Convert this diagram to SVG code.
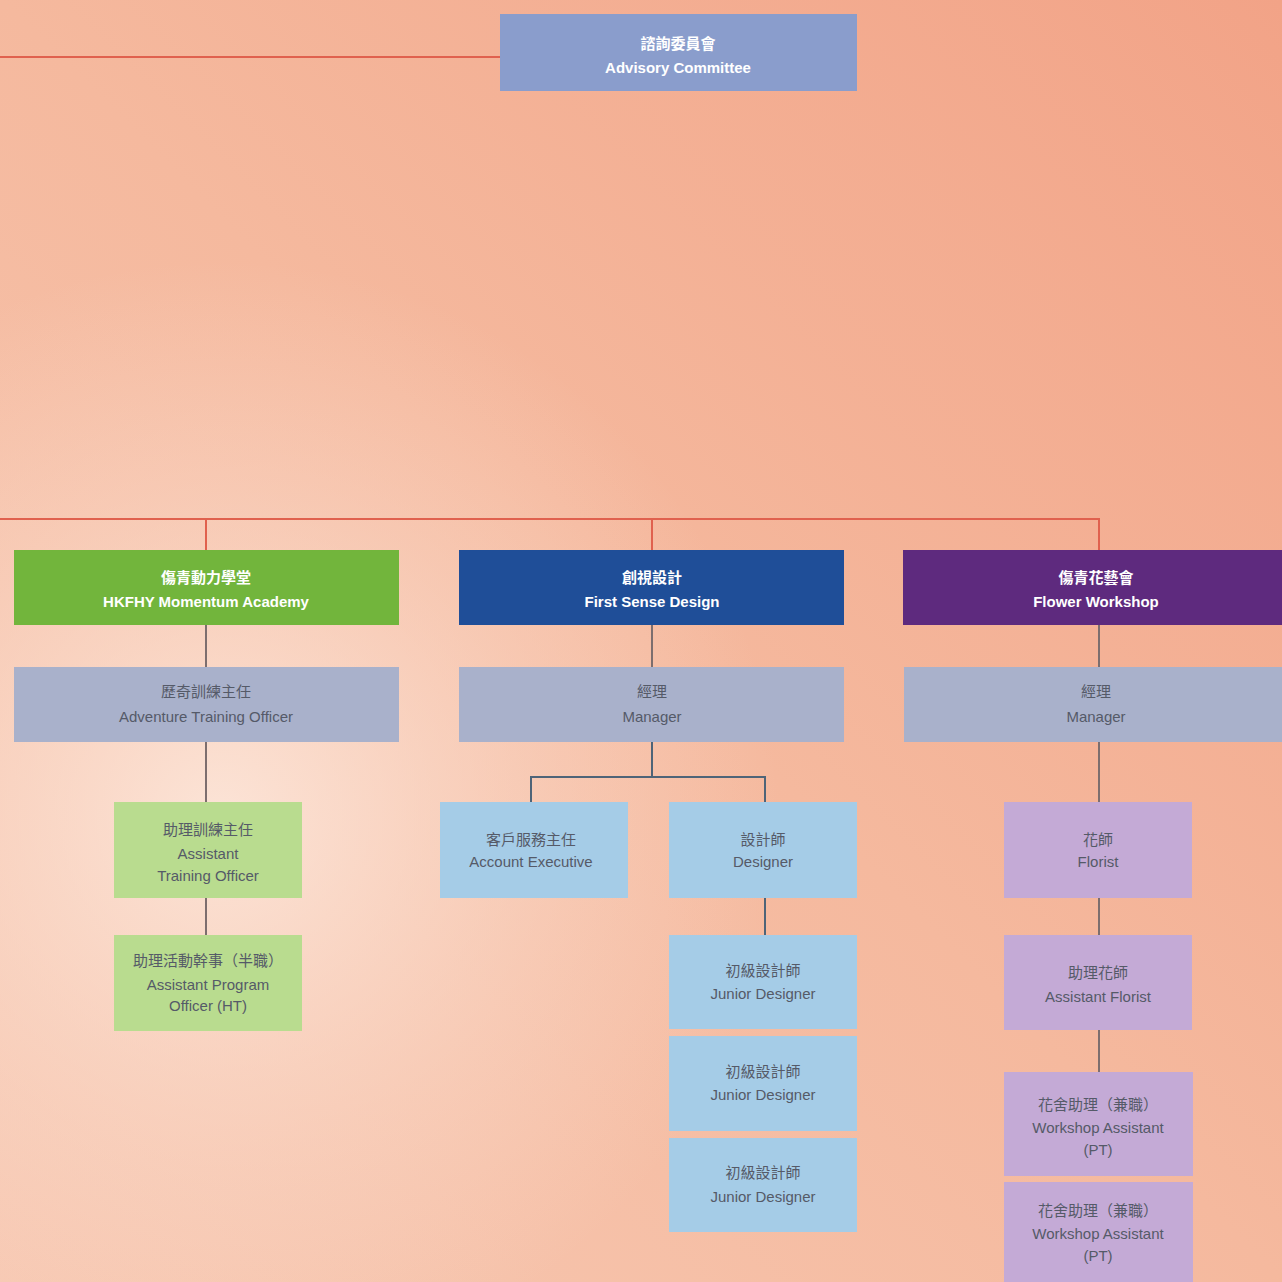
<svg xmlns="http://www.w3.org/2000/svg" width="1282" height="1282" viewBox="0 0 1282 1282">
<defs>
<linearGradient id="bg" x1="1" y1="0" x2="0" y2="1">
<stop offset="0" stop-color="#f2a387"/>
<stop offset="0.5" stop-color="#f5b99e"/>
<stop offset="1" stop-color="#f7c8b2"/>
</linearGradient>
<radialGradient id="glow" gradientUnits="userSpaceOnUse" cx="220" cy="820" r="560">
<stop offset="0" stop-color="#fdeadf" stop-opacity="0.85"/>
<stop offset="0.6" stop-color="#fbe0d2" stop-opacity="0.35"/>
<stop offset="1" stop-color="#fbe0d2" stop-opacity="0"/>
</radialGradient>
<style>
text{font-family:"Liberation Sans","Noto Sans CJK TC",sans-serif;text-anchor:middle;font-size:15px}
.w{fill:#ffffff;font-weight:bold}
.d{fill:#555a68}
.red{stroke:#e0614e;stroke-width:2;fill:none}
.gl{stroke:#7d6e6e;stroke-width:2;fill:none}
.bl{stroke:#4e6478;stroke-width:2;fill:none}
</style>
</defs>
<rect width="1282" height="1282" fill="url(#bg)"/>
<rect width="1282" height="1282" fill="url(#glow)"/>
<g id="connectors">
<path class="red" d="M0 57H500"/>
<path class="red" d="M0 519H1100M206 519V550M652 519V550M1099 519V550"/>
<path class="gl" d="M206 625V667M206 742V802M206 898V935"/>
<path class="gl" d="M652 625V667M1099 625V667M1099 742V802M1099 898V935M1099 1030V1072"/>
<path class="bl" d="M652 742V777M531 802V777H765V802M765 898V935"/>
</g>
<g id="advisory"><rect x="500" y="14" width="357" height="77" fill="#8a9dcc"/><text class="w" x="678" y="49">諮詢委員會</text><text class="w" x="678" y="73">Advisory Committee</text></g>
<g id="momentum"><rect x="14" y="550" width="385" height="75" fill="#72b53c"/><text class="w" x="206" y="583">傷青動力學堂</text><text class="w" x="206" y="607">HKFHY Momentum Academy</text></g>
<g id="firstsense"><rect x="459" y="550" width="385" height="75" fill="#1f4e98"/><text class="w" x="652" y="583">創視設計</text><text class="w" x="652" y="607">First Sense Design</text></g>
<g id="flower"><rect x="903" y="550" width="379" height="75" fill="#5e2a7e"/><text class="w" x="1096" y="583">傷青花藝會</text><text class="w" x="1096" y="607">Flower Workshop</text></g>
<g id="ato"><rect x="14" y="667" width="385" height="75" fill="#a9b1cb"/><text class="d" x="206" y="697">歷奇訓練主任</text><text class="d" x="206" y="722">Adventure Training Officer</text></g>
<g id="fsmanager"><rect x="459" y="667" width="385" height="75" fill="#a9b1cb"/><text class="d" x="652" y="697">經理</text><text class="d" x="652" y="722">Manager</text></g>
<g id="fwmanager"><rect x="904" y="667" width="378" height="75" fill="#a9b1cb"/><text class="d" x="1096" y="697">經理</text><text class="d" x="1096" y="722">Manager</text></g>
<g id="asto"><rect x="114" y="802" width="188" height="96" fill="#b9dc8f"/><text class="d" x="208" y="835">助理訓練主任</text><text class="d" x="208" y="859">Assistant</text><text class="d" x="208" y="881">Training Officer</text></g>
<g id="apo"><rect x="114" y="935" width="188" height="96" fill="#b9dc8f"/><text class="d" x="208" y="966">助理活動幹事（半職）</text><text class="d" x="208" y="990">Assistant Program</text><text class="d" x="208" y="1011">Officer (HT)</text></g>
<g id="ae"><rect x="440" y="802" width="188" height="96" fill="#a5cce7"/><text class="d" x="531" y="845">客戶服務主任</text><text class="d" x="531" y="867">Account Executive</text></g>
<g id="designer"><rect x="669" y="802" width="188" height="96" fill="#a5cce7"/><text class="d" x="763" y="845">設計師</text><text class="d" x="763" y="867">Designer</text></g>
<g id="jd1"><rect x="669" y="935" width="188" height="94" fill="#a5cce7"/><text class="d" x="763" y="976">初級設計師</text><text class="d" x="763" y="999">Junior Designer</text></g>
<g id="jd2"><rect x="669" y="1036" width="188" height="95" fill="#a5cce7"/><text class="d" x="763" y="1077">初級設計師</text><text class="d" x="763" y="1100">Junior Designer</text></g>
<g id="jd3"><rect x="669" y="1138" width="188" height="94" fill="#a5cce7"/><text class="d" x="763" y="1178">初級設計師</text><text class="d" x="763" y="1202">Junior Designer</text></g>
<g id="florist"><rect x="1004" y="802" width="188" height="96" fill="#c4aad6"/><text class="d" x="1098" y="845">花師</text><text class="d" x="1098" y="867">Florist</text></g>
<g id="asflorist"><rect x="1004" y="935" width="188" height="95" fill="#c4aad6"/><text class="d" x="1098" y="978">助理花師</text><text class="d" x="1098" y="1002">Assistant Florist</text></g>
<g id="wa1"><rect x="1004" y="1072" width="189" height="104" fill="#c4aad6"/><text class="d" x="1098" y="1110">花舍助理（兼職）</text><text class="d" x="1098" y="1133">Workshop Assistant</text><text class="d" x="1098" y="1155">(PT)</text></g>
<g id="wa2"><rect x="1004" y="1182" width="189" height="100" fill="#c4aad6"/><text class="d" x="1098" y="1216">花舍助理（兼職）</text><text class="d" x="1098" y="1239">Workshop Assistant</text><text class="d" x="1098" y="1261">(PT)</text></g>
</svg>
